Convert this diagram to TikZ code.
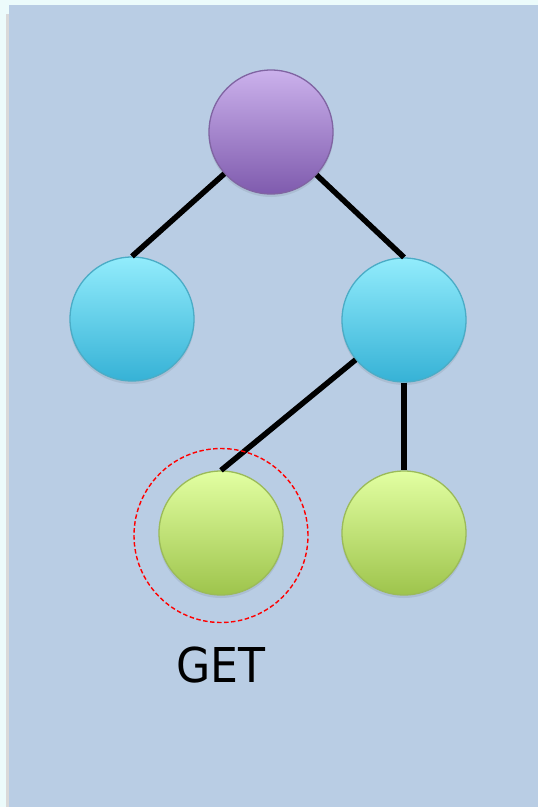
\documentclass[tikz,border=0pt]{standalone}
\usepackage{fontspec}
\newfontfamily\labelfont{DejaVu Sans}
\definecolor{outerbg}{HTML}{ECFBFB}
\definecolor{panel}{HTML}{B9CDE4}
\definecolor{purpTop}{HTML}{CBB1EC}
\definecolor{purpBot}{HTML}{7F5BAE}
\definecolor{purpLine}{HTML}{8064A2}
\definecolor{cyanTop}{HTML}{92ECFC}
\definecolor{cyanBot}{HTML}{36B2D6}
\definecolor{cyanLine}{HTML}{4BACC6}
\definecolor{grnTop}{HTML}{E2FFA2}
\definecolor{grnBot}{HTML}{9EC44C}
\definecolor{grnLine}{HTML}{9BBB59}
\tikzset{
  x=1pt,y=1pt,
  ball/.style={circle,minimum size=124pt,inner sep=0pt,line width=1.3pt,shading=axis,shading angle=0},
  purpball/.style={ball,draw=purpLine,top color=purpTop,bottom color=purpBot},
  cyanball/.style={ball,draw=cyanLine,top color=cyanTop,bottom color=cyanBot},
  grnball/.style={ball,draw=grnLine,top color=grnTop,bottom color=grnBot},
  ballshadow/.style={fill=black,opacity=0.07,circle,minimum size=125pt,inner sep=0pt},
  edge/.style={line width=5.5pt,black},
  ring/.style={circle,draw=red,dash pattern=on 4.5pt off 2.5pt,line width=1.4pt,minimum size=174pt,inner sep=0pt}
}
\begin{document}
\begin{tikzpicture}
\useasboundingbox (0,0) rectangle (538,-807);
\fill[outerbg] (0,0) rectangle (538,-807);
\fill[gray!30] (5.5,-14) rectangle (9,-807);
\fill[panel] (9,-5) rectangle (538,-807);
% soft shadows
\node[ballshadow] at (271,-134.5) {};
\node[ballshadow] at (132,-321.5) {};
\node[ballshadow] at (404,-322.5) {};
\node[ballshadow] at (221,-535.5) {};
\node[ballshadow] at (404,-535.5) {};
% nodes
\node[purpball] (root) at (271,-132) {};
\node[cyanball] (l) at (132,-319) {};
\node[cyanball] (r) at (404,-320) {};
\node[grnball] (gl) at (221,-533) {};
\node[grnball] (gr) at (404,-533) {};
% edges
\draw[edge] (root) -- (l.north);
\draw[edge] (root) -- (r.north);
\draw[edge] (r) -- (gl.north);
\draw[edge] (r) -- (gr.north);
% highlight ring
\node[ring] (hl) at (221,-535.5) {};
% label
\node[font=\labelfont\fontsize{48}{48}\selectfont,xscale=0.92,inner sep=0pt] (get) at (221,-665) {GET};
\end{tikzpicture}
\end{document}
